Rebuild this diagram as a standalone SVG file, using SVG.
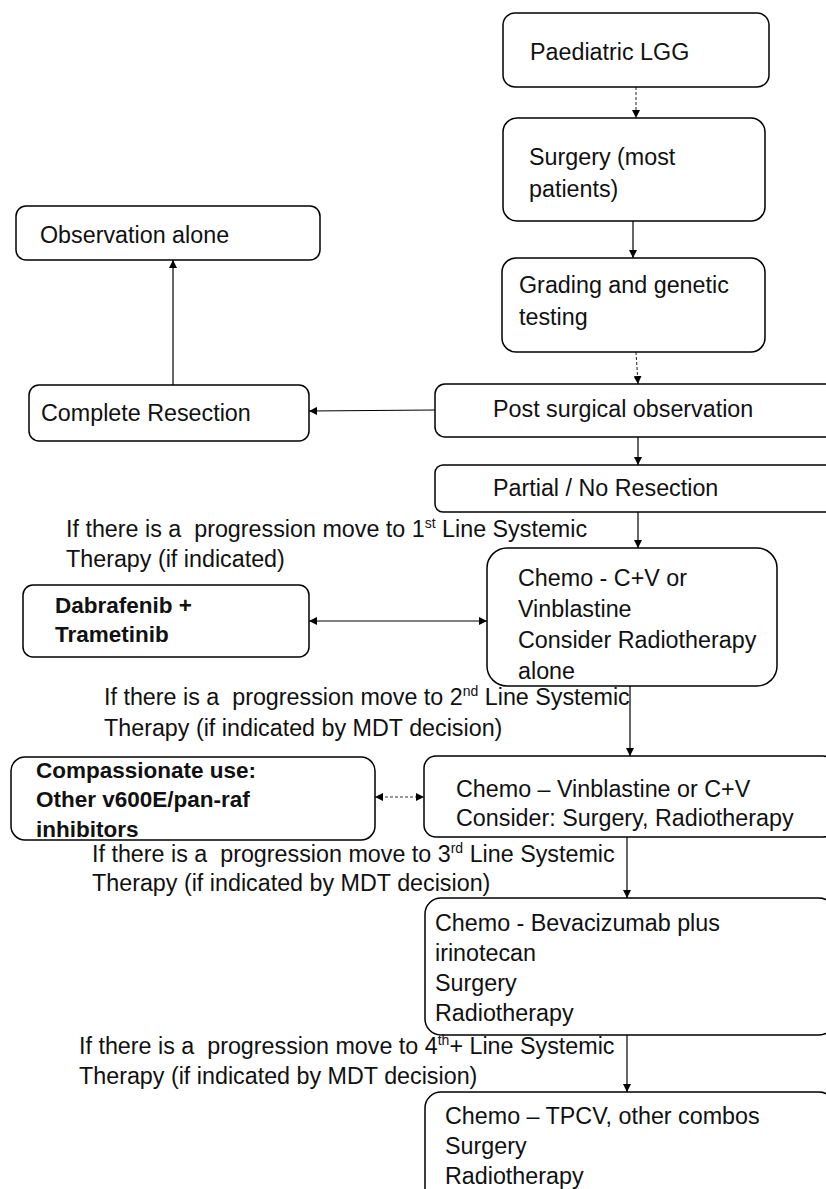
<svg xmlns="http://www.w3.org/2000/svg" width="826" height="1189" viewBox="0 0 826 1189">
<style>
.box{fill:#fff;stroke:#000;stroke-width:1.5}
.t{font-family:"Liberation Sans",Arial,sans-serif;font-size:23.3px;fill:#111}
.b{font-weight:bold;font-size:22.5px}
.c{stroke:#000;stroke-width:1.2;fill:none}
.d{stroke:#333;stroke-width:1.1;fill:none;stroke-dasharray:3 2}
.sup{font-size:14px}
</style>
<defs>
<marker id="ah" viewBox="0 0 10 10" refX="10" refY="5" markerWidth="8" markerHeight="8" markerUnits="userSpaceOnUse" orient="auto-start-reverse"><path d="M0,0 L10,5 L0,10 z" fill="#000"/></marker>
</defs>
<rect width="826" height="1189" fill="#fff"/>
<g id="connectors">
<line class="d" x1="636" y1="87" x2="636" y2="118" marker-end="url(#ah)"/>
<line class="c" x1="633" y1="221" x2="633" y2="258" marker-end="url(#ah)"/>
<line class="d" x1="636" y1="352" x2="638" y2="384" marker-end="url(#ah)"/>
<line class="c" x1="173" y1="385" x2="173" y2="260" marker-end="url(#ah)"/>
<line class="c" x1="435" y1="410" x2="309" y2="411" marker-end="url(#ah)"/>
<line class="c" x1="638" y1="437" x2="638" y2="465" marker-end="url(#ah)"/>
<line class="c" x1="638" y1="512" x2="638" y2="548" marker-end="url(#ah)"/>
<line class="c" x1="309" y1="621" x2="487" y2="621" marker-start="url(#ah)" marker-end="url(#ah)"/>
<line class="c" x1="630" y1="686" x2="630" y2="756" marker-end="url(#ah)"/>
<line class="d" x1="375" y1="797" x2="424" y2="797" marker-start="url(#ah)" marker-end="url(#ah)"/>
<line class="c" x1="627" y1="837" x2="627" y2="898" marker-end="url(#ah)"/>
<line class="c" x1="627" y1="1035" x2="627" y2="1092" marker-end="url(#ah)"/>
</g>
<g id="n-lgg"><rect class="box" x="503" y="13" width="266" height="74" rx="12"/><text class="t" x="530" y="60">Paediatric LGG</text></g>
<g id="n-surgery"><rect class="box" x="503" y="118" width="262" height="103" rx="14"/><text class="t" x="529" y="165">Surgery (most</text><text class="t" x="529" y="197">patients)</text></g>
<g id="n-grading"><rect class="box" x="502" y="258" width="263" height="94" rx="14"/><text class="t" x="519" y="293">Grading and genetic</text><text class="t" x="519" y="325">testing</text></g>
<g id="n-observation"><rect class="box" x="16" y="206" width="304" height="54" rx="10"/><text class="t" x="40" y="243">Observation alone</text></g>
<g id="n-complete"><rect class="box" x="29" y="385" width="280" height="56" rx="10"/><text class="t" x="41" y="421">Complete Resection</text></g>
<g id="n-post"><rect class="box" x="435" y="384" width="400" height="53" rx="10"/><text class="t" x="493" y="417">Post surgical observation</text></g>
<g id="n-partial"><rect class="box" x="435" y="465" width="400" height="47" rx="8"/><text class="t" x="493" y="496">Partial / No Resection</text></g>
<text class="t" x="66" y="537" xml:space="preserve">If there is a  progression move to 1<tspan class="sup" dy="-9">st</tspan><tspan dy="9"> Line Systemic</tspan></text>
<text class="t" x="66" y="567">Therapy (if indicated)</text>
<g id="n-chemo1"><rect class="box" x="487" y="548" width="290" height="138" rx="20"/><text class="t" x="518" y="586">Chemo - C+V or</text><text class="t" x="518" y="617">Vinblastine</text><text class="t" x="518" y="648">Consider Radiotherapy</text><text class="t" x="518" y="679">alone</text></g>
<g id="n-dabrafenib"><rect class="box" x="23" y="585" width="286" height="72" rx="10"/><text class="t b" x="55" y="613">Dabrafenib +</text><text class="t b" x="55" y="642">Trametinib</text></g>
<text class="t" x="104" y="705" xml:space="preserve">If there is a  progression move to 2<tspan class="sup" dy="-9">nd</tspan><tspan dy="9"> Line Systemic</tspan></text>
<text class="t" x="104" y="736">Therapy (if indicated by MDT decision)</text>
<g id="n-compassionate"><rect class="box" x="11" y="757" width="364" height="83" rx="14"/><text class="t b" x="36" y="778">Compassionate use:</text><text class="t b" x="36" y="807">Other v600E/pan-raf</text><text class="t b" x="36" y="837">inhibitors</text></g>
<g id="n-chemo2"><rect class="box" x="424" y="756" width="411" height="81" rx="12"/><text class="t" x="456" y="797">Chemo – Vinblastine or C+V</text><text class="t" x="456" y="826">Consider: Surgery, Radiotherapy</text></g>
<text class="t" x="92" y="862" xml:space="preserve">If there is a  progression move to 3<tspan class="sup" dy="-9">rd</tspan><tspan dy="9"> Line Systemic</tspan></text>
<text class="t" x="92" y="891">Therapy (if indicated by MDT decision)</text>
<g id="n-chemo3"><rect class="box" x="425" y="898" width="410" height="137" rx="16"/><text class="t" x="435" y="931">Chemo - Bevacizumab plus</text><text class="t" x="435" y="961">irinotecan</text><text class="t" x="435" y="991">Surgery</text><text class="t" x="435" y="1021">Radiotherapy</text></g>
<text class="t" x="79" y="1054" xml:space="preserve">If there is a  progression move to 4<tspan class="sup" dy="-9">th</tspan><tspan dy="9">+ Line Systemic</tspan></text>
<text class="t" x="79" y="1084">Therapy (if indicated by MDT decision)</text>
<g id="n-chemo4"><rect class="box" x="425" y="1092" width="410" height="120" rx="16"/><text class="t" x="445" y="1124">Chemo – TPCV, other combos</text><text class="t" x="445" y="1154">Surgery</text><text class="t" x="445" y="1184">Radiotherapy</text></g>
</svg>
